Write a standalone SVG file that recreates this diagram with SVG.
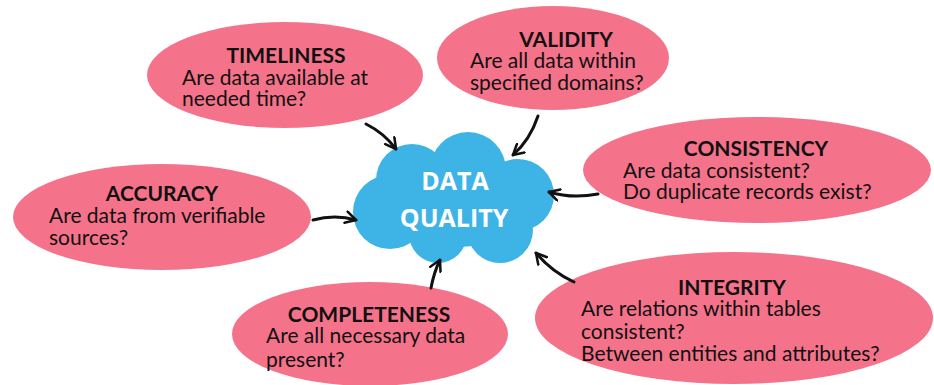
<svg xmlns="http://www.w3.org/2000/svg" width="934" height="385" viewBox="0 0 934 385">
<style>
.node ellipse{fill:#f5738a}
.t{font-family:Lato,"Liberation Sans",sans-serif;font-size:21px;fill:#111}
.h{font-weight:bold;text-anchor:middle}
.cloud{fill:#3db4e5}
.ct{font-family:"Open Sans","Liberation Sans",sans-serif;font-weight:bold;font-size:25px;fill:#fff;text-anchor:middle}
.c{fill:none;stroke:#111;stroke-width:3;stroke-linecap:round;marker-end:url(#ah)}
</style>
<defs>
<marker id="ah" viewBox="0 0 12 12" refX="10" refY="6" markerWidth="4.6" markerHeight="4.6" orient="auto" markerUnits="strokeWidth">
<path d="M1,1 L10,6 L1,11" fill="none" stroke="#111" stroke-width="2.2" stroke-linecap="round" stroke-linejoin="round"/>
</marker>
</defs>
<rect width="934" height="385" fill="#fff"/>
<g id="timeliness" class="node">
<ellipse cx="285" cy="75" rx="138" ry="53"/>
<text class="t h" x="286" y="63">TIMELINESS</text>
<text class="t" x="182" y="85">Are data available at</text>
<text class="t" x="182" y="106">needed time?</text>
</g>
<g id="validity" class="node">
<ellipse cx="553" cy="58" rx="116" ry="52"/>
<text class="t h" x="566" y="47">VALIDITY</text>
<text class="t" x="470" y="68">Are all data within</text>
<text class="t" x="470" y="90">specified domains?</text>
</g>
<g id="consistency" class="node">
<ellipse cx="757" cy="170" rx="174" ry="53"/>
<text class="t h" x="756" y="156">CONSISTENCY</text>
<text class="t" x="623" y="178">Are data consistent?</text>
<text class="t" x="623" y="199">Do duplicate records exist?</text>
</g>
<g id="accuracy" class="node">
<ellipse cx="162" cy="217" rx="149" ry="53"/>
<text class="t h" x="162" y="201">ACCURACY</text>
<text class="t" x="49" y="223">Are data from verifiable</text>
<text class="t" x="49" y="245">sources?</text>
</g>
<g id="integrity" class="node">
<ellipse cx="734" cy="318" rx="199" ry="66"/>
<text class="t h" x="732" y="295">INTEGRITY</text>
<text class="t" x="581" y="316">Are relations within tables</text>
<text class="t" x="581" y="339">consistent?</text>
<text class="t" x="581" y="361">Between entities and attributes?</text>
</g>
<g id="completeness" class="node">
<ellipse cx="370" cy="334" rx="138" ry="52"/>
<text class="t h" x="369" y="322">COMPLETENESS</text>
<text class="t" x="266" y="343">Are all necessary data</text>
<text class="t" x="266" y="367">present?</text>
</g>
<g id="data-quality">
<g class="cloud">
<ellipse cx="455" cy="205" rx="80" ry="42"/>
<circle cx="468" cy="170" r="38"/>
<circle cx="412" cy="180" r="36"/>
<circle cx="518" cy="195" r="36"/>
<circle cx="390" cy="212" r="37"/>
<circle cx="500" cy="230" r="33"/>
<circle cx="438" cy="234" r="29"/>
</g>
<text class="ct" x="455" y="190">DATA</text>
<text class="ct" x="454" y="227">QUALITY</text>
</g>
<g id="connectors">
<path class="c" d="M366,124 Q384,133 396,149"/>
<path class="c" d="M538,116 Q530,140 513,155"/>
<path class="c" d="M598,194 Q572,199 549,192"/>
<path class="c" d="M313,220 Q335,214 356,220"/>
<path class="c" d="M431,288 Q434,272 440,260"/>
<path class="c" d="M574,282 Q552,272 536,253"/>
</g>
</svg>
